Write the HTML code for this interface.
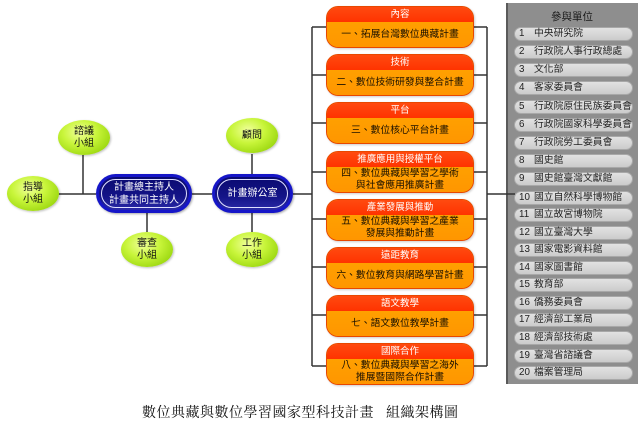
<!DOCTYPE html>
<html><head><meta charset="utf-8">
<style>
html,body{margin:0;padding:0;background:#fff;}
body{width:640px;height:424px;position:relative;overflow:hidden;font-family:"Liberation Sans","Noto Sans CJK TC",sans-serif;}
.abs{position:absolute;}
.ell{position:absolute;width:52px;height:35px;border-radius:50%;
 background:radial-gradient(ellipse at 42% 35%,#f0ff9a 0%,#c8f53a 40%,#9ad60e 80%,#86c400 100%);
 box-shadow:1px 1px 2px rgba(0,0,0,0.25);
 display:flex;align-items:center;justify-content:center;text-align:center;
 font-size:10px;line-height:12px;color:#111;}
.navy{position:absolute;height:39px;box-sizing:border-box;border-radius:20px;
 background:#1616c8;box-shadow:1px 1px 2px rgba(0,0,0,0.35);}
.navy .in{position:absolute;left:3px;top:3px;right:3px;bottom:3px;border-radius:17px;
 background:linear-gradient(#0a0a70,#141488 60%,#2a2aa8);}
.navy .ring{position:absolute;left:2px;top:2px;right:2px;bottom:2px;border-radius:15px;border:1px solid #dfe0ff;
 display:flex;align-items:center;justify-content:center;text-align:center;color:#fff;font-size:10px;line-height:13px;}
.box{position:absolute;left:326px;width:148px;height:42px;box-sizing:border-box;border-radius:12px;overflow:hidden;
 border:1px solid #e84800;background:#ff9c00;box-shadow:1px 1px 2px rgba(0,0,0,0.2);}
.box .hd{height:15px;background:linear-gradient(#ff4a10,#ff3300);color:#fff;font-size:9.5px;line-height:15px;text-align:center;}
.box .bd{height:25px;background:linear-gradient(#ffa000,#ff9600);color:#1a1000;font-size:9.8px;text-align:center;display:flex;align-items:center;justify-content:center;line-height:12px;}
.panel{position:absolute;left:506px;top:3px;width:132px;height:381px;background:#8e8e8e;box-shadow:inset 2px 0 0 #5a5a5a;}
.pill{position:absolute;left:514px;width:119px;height:14px;border-radius:7px;box-sizing:border-box;
 background:linear-gradient(#e2e2e2,#cbcbcb);border:1px solid #a8a8a8;font-size:9.8px;line-height:12px;color:#222;}
.pill .n{position:absolute;left:4px;top:0;}
.pill .t{position:absolute;left:19px;top:0;white-space:nowrap;}
</style></head><body>

<svg class="abs" style="left:0;top:0" width="640" height="424">
 <g stroke="#333" stroke-width="1.5" fill="none">
  <line x1="58" y1="194" x2="96" y2="194"/>
  <line x1="83" y1="155" x2="83" y2="194"/>
  <line x1="147" y1="213" x2="147" y2="232"/>
  <line x1="192" y1="194" x2="212" y2="194"/>
  <line x1="252" y1="154" x2="252" y2="174"/>
  <line x1="252" y1="213" x2="252" y2="232"/>
  <line x1="293" y1="194" x2="312" y2="194"/>
  <line x1="312" y1="27" x2="312" y2="366"/>
  <line x1="487" y1="27" x2="487" y2="366"/>
  <line x1="312" y1="27" x2="487" y2="27"/>
  <line x1="312" y1="75" x2="487" y2="75"/>
  <line x1="312" y1="123" x2="487" y2="123"/>
  <line x1="312" y1="172" x2="487" y2="172"/>
  <line x1="312" y1="219" x2="487" y2="219"/>
  <line x1="312" y1="267" x2="487" y2="267"/>
  <line x1="312" y1="315" x2="487" y2="315"/>
  <line x1="312" y1="366" x2="487" y2="366"/>
 </g>
</svg>

<div class="ell" style="left:58px;top:120px;">諮議<br>小組</div>
<div class="ell" style="left:7px;top:176px;">指導<br>小組</div>
<div class="ell" style="left:121px;top:232px;">審查<br>小組</div>
<div class="ell" style="left:226px;top:118px;">顧問</div>
<div class="ell" style="left:226px;top:232px;">工作<br>小組</div>

<div class="navy" style="left:96px;top:174px;width:96px;"><div class="in"><div class="ring">計畫總主持人<br>計畫共同主持人</div></div></div>
<div class="navy" style="left:212px;top:174px;width:81px;"><div class="in"><div class="ring">計畫辦公室</div></div></div>

<div class="box" style="top:6px;"><div class="hd">內容</div><div class="bd">一、拓展台灣數位典藏計畫</div></div>
<div class="box" style="top:54px;"><div class="hd">技術</div><div class="bd">二、數位技術研發與整合計畫</div></div>
<div class="box" style="top:102px;"><div class="hd">平台</div><div class="bd">三、數位核心平台計畫</div></div>
<div class="box" style="top:151px;"><div class="hd">推廣應用與授權平台</div><div class="bd">四、數位典藏與學習之學術<br>與社會應用推廣計畫</div></div>
<div class="box" style="top:199px;"><div class="hd">產業發展與推動</div><div class="bd">五、數位典藏與學習之產業<br>發展與推動計畫</div></div>
<div class="box" style="top:247px;"><div class="hd">遠距教育</div><div class="bd">六、數位教育與網路學習計畫</div></div>
<div class="box" style="top:295px;"><div class="hd">語文教學</div><div class="bd">七、語文數位教學計畫</div></div>
<div class="box" style="top:343px;"><div class="hd">國際合作</div><div class="bd">八、數位典藏與學習之海外<br>推展暨國際合作計畫</div></div>

<div class="panel"></div>
<div class="abs" style="left:506px;top:10px;width:132px;text-align:center;font-size:10.5px;line-height:14px;color:#1a1a1a;">參與單位</div>

<div class="pill" style="top:27px;"><span class="n">1</span><span class="t">中央研究院</span></div>
<div class="pill" style="top:45px;"><span class="n">2</span><span class="t">行政院人事行政總處</span></div>
<div class="pill" style="top:63px;"><span class="n">3</span><span class="t">文化部</span></div>
<div class="pill" style="top:81px;"><span class="n">4</span><span class="t">客家委員會</span></div>
<div class="pill" style="top:100px;"><span class="n">5</span><span class="t">行政院原住民族委員會</span></div>
<div class="pill" style="top:118px;"><span class="n">6</span><span class="t">行政院國家科學委員會</span></div>
<div class="pill" style="top:136px;"><span class="n">7</span><span class="t">行政院勞工委員會</span></div>
<div class="pill" style="top:154px;"><span class="n">8</span><span class="t">國史館</span></div>
<div class="pill" style="top:172px;"><span class="n">9</span><span class="t">國史館臺灣文獻館</span></div>
<div class="pill" style="top:191px;"><span class="n">10</span><span class="t">國立自然科學博物館</span></div>
<div class="pill" style="top:208px;"><span class="n">11</span><span class="t">國立故宮博物院</span></div>
<div class="pill" style="top:226px;"><span class="n">12</span><span class="t">國立臺灣大學</span></div>
<div class="pill" style="top:243px;"><span class="n">13</span><span class="t">國家電影資料館</span></div>
<div class="pill" style="top:261px;"><span class="n">14</span><span class="t">國家圖書館</span></div>
<div class="pill" style="top:278px;"><span class="n">15</span><span class="t">教育部</span></div>
<div class="pill" style="top:296px;"><span class="n">16</span><span class="t">僑務委員會</span></div>
<div class="pill" style="top:313px;"><span class="n">17</span><span class="t">經濟部工業局</span></div>
<div class="pill" style="top:331px;"><span class="n">18</span><span class="t">經濟部技術處</span></div>
<div class="pill" style="top:349px;"><span class="n">19</span><span class="t">臺灣省諮議會</span></div>
<div class="pill" style="top:366px;"><span class="n">20</span><span class="t">檔案管理局</span></div>

<svg class="abs" style="left:0;top:0" width="640" height="424">
 <line x1="487" y1="194" x2="515" y2="194" stroke="#333" stroke-width="1.5"/>
</svg>

<div class="abs" style="left:142px;top:405px;white-space:nowrap;font-family:'Liberation Serif','Noto Serif CJK SC',serif;font-size:14px;line-height:18px;color:#111;letter-spacing:0.5px;">數位典藏與數位學習國家型科技計畫<span style="display:inline-block;width:12px;"></span>組織架構圖</div>

</body></html>
